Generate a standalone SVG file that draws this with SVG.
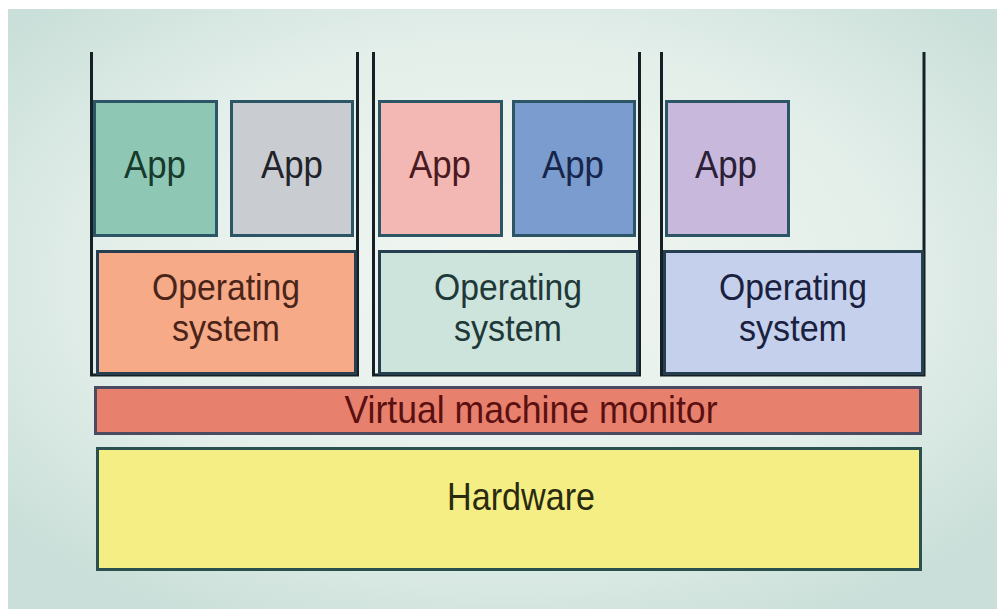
<svg xmlns="http://www.w3.org/2000/svg" width="997" height="609" viewBox="0 0 997 609">
<defs>
<radialGradient id="bg" cx="0.5" cy="0.45" r="0.65">
<stop offset="0" stop-color="#f2f6f1"/>
<stop offset="0.6" stop-color="#e4efea"/>
<stop offset="1" stop-color="#cadfd9"/>
</radialGradient>
<style>
.app{stroke:#2c5566;stroke-width:3}
.os{stroke:#263f50;stroke-width:3}
.ct{fill:none;stroke:#152025;stroke-width:3}
text{font-family:"Liberation Sans",Arial,sans-serif;font-size:39px;text-anchor:middle}
.ost{font-size:36px}
</style>
</defs>
<rect width="997" height="609" fill="#ffffff"/>
<rect x="8" y="9" width="989" height="600" fill="url(#bg)"/>

<g id="connectors">
<path class="ct" d="M91.5 52 V375 H357.5 V52"/>
<path class="ct" d="M373.5 52 V375 H639.5 V52"/>
<path class="ct" d="M661.5 52 V375 H924 V52"/>
</g>

<g id="app1"><rect class="app" x="94.5" y="101.5" width="122" height="134" fill="#8ec8b4"/><text x="155" y="178" fill="#173a2c" textLength="62" lengthAdjust="spacingAndGlyphs">App</text></g>
<g id="app2"><rect class="app" x="231.5" y="101.5" width="121" height="134" fill="#c9cdd1"/><text x="292" y="178" fill="#22222a" textLength="62" lengthAdjust="spacingAndGlyphs">App</text></g>
<g id="app3"><rect class="app" x="379.5" y="101.5" width="122" height="134" fill="#f4b8b4"/><text x="440" y="178" fill="#4a1a20" textLength="62" lengthAdjust="spacingAndGlyphs">App</text></g>
<g id="app4"><rect class="app" x="513.5" y="101.5" width="121" height="134" fill="#7a9cce"/><text x="573" y="178" fill="#17254a" textLength="62" lengthAdjust="spacingAndGlyphs">App</text></g>
<g id="app5"><rect class="app" x="666.5" y="101.5" width="122" height="134" fill="#c8b9dc"/><text x="726" y="178" fill="#2a2035" textLength="62" lengthAdjust="spacingAndGlyphs">App</text></g>

<g id="os1"><rect class="os" x="97.5" y="251.5" width="258" height="122" fill="#f6aa88"/><text class="ost" x="226" y="300" fill="#4a2418" textLength="148" lengthAdjust="spacingAndGlyphs">Operating</text><text class="ost" x="226" y="341" fill="#4a2418" textLength="108" lengthAdjust="spacingAndGlyphs">system</text></g>
<g id="os2"><rect class="os" x="379.5" y="251.5" width="258" height="122" fill="#cce4dc"/><text class="ost" x="508" y="300" fill="#1f3838" textLength="148" lengthAdjust="spacingAndGlyphs">Operating</text><text class="ost" x="508" y="341" fill="#1f3838" textLength="108" lengthAdjust="spacingAndGlyphs">system</text></g>
<g id="os3"><rect class="os" x="664.5" y="251.5" width="258" height="122" fill="#c5d1ec"/><text class="ost" x="793" y="300" fill="#1a2040" textLength="148" lengthAdjust="spacingAndGlyphs">Operating</text><text class="ost" x="793" y="341" fill="#1a2040" textLength="108" lengthAdjust="spacingAndGlyphs">system</text></g>

<g id="vmm"><rect x="95.5" y="387.5" width="825" height="46" fill="#e8806e" stroke="#4a4a60" stroke-width="3"/><text x="531" y="423" fill="#5a1010" font-size="41" textLength="373" lengthAdjust="spacingAndGlyphs">Virtual machine monitor</text></g>
<g id="hardware"><rect x="97.5" y="448.5" width="823" height="121" fill="#f4ee84" stroke="#2a5050" stroke-width="3"/><text x="521" y="510" fill="#2a2a10" font-size="41" textLength="148" lengthAdjust="spacingAndGlyphs">Hardware</text></g>
</svg>
